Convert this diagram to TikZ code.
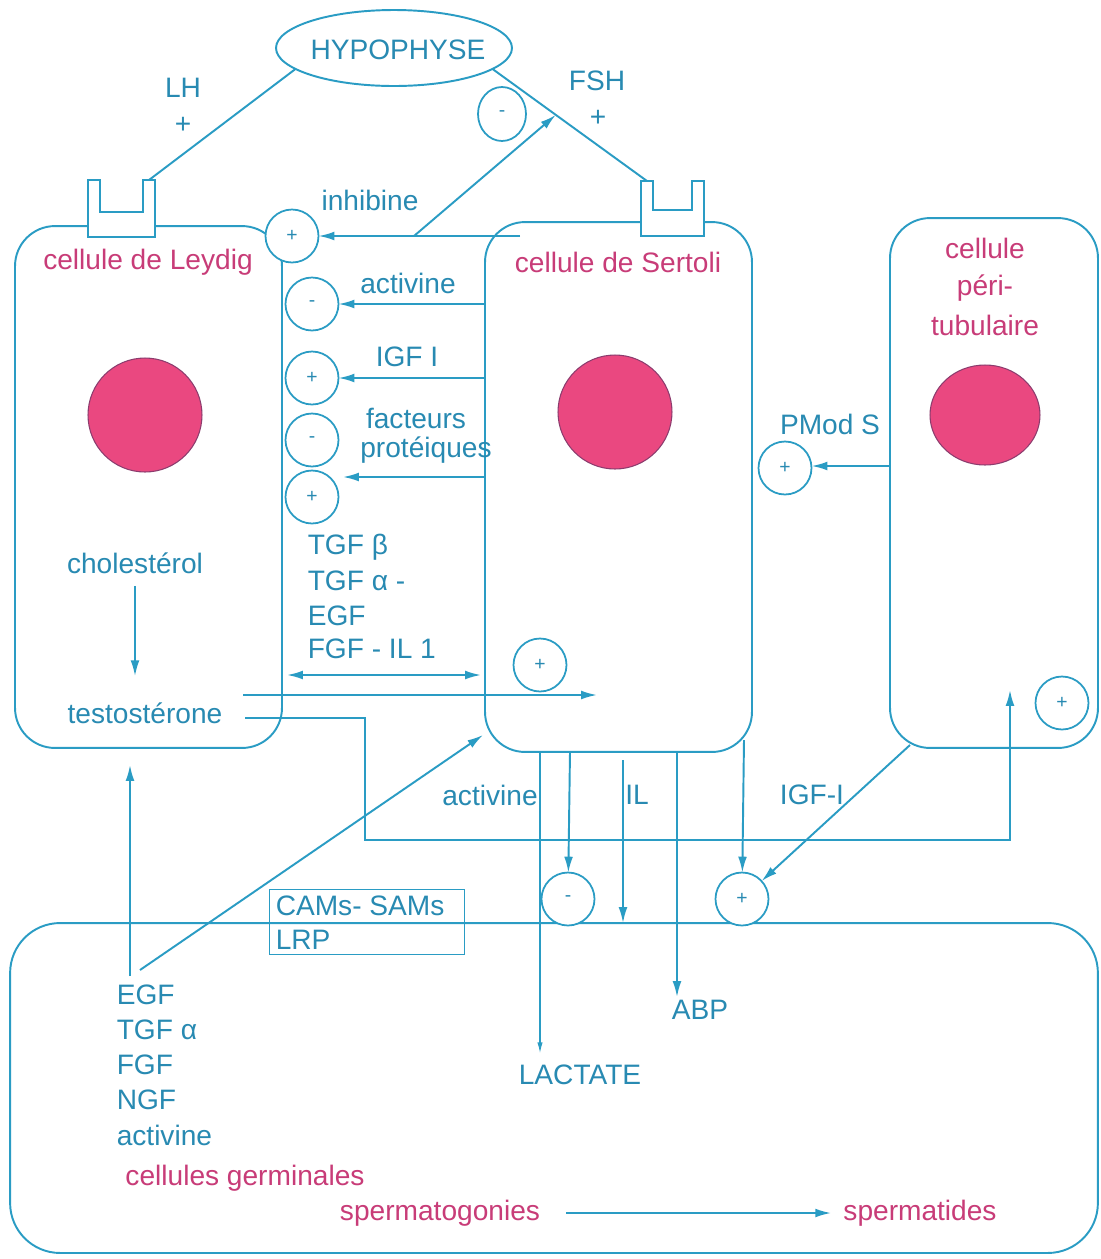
\documentclass[tikz,border=0pt]{standalone}
\usepackage{fontspec}
\setmainfont{Liberation Sans}
\usetikzlibrary{arrows.meta,shapes.geometric,calc}
\definecolor{lb}{RGB}{42,156,196}
\definecolor{tb}{RGB}{40,138,178}
\definecolor{mg}{RGB}{200,60,120}
\definecolor{nuc}{RGB}{234,72,128}
\definecolor{nucb}{RGB}{140,60,110}
\begin{document}
\begin{tikzpicture}[x=0.02cm,y=-0.02cm,line width=1.1pt,color=lb,
  every node/.style={font=\fontsize{16}{19}\selectfont,text=tb,inner sep=1pt,outer sep=0pt},
  cell/.style={draw=lb,rounded corners=0.8cm,inner sep=0pt},
  nucleus/.style={ellipse,fill=nuc,draw=nucb,line width=0.6pt,inner sep=0pt},
  sig/.style={circle,draw=lb,fill=white,line width=1pt,minimum size=1.06cm,inner sep=0pt,font=\fontsize{11}{12}\selectfont},
  recep/.style={draw=lb,fill=white,line width=1.1pt},
  arr/.style={-{Latex[length=9pt,width=5pt]}},
  darr/.style={{Latex[length=9pt,width=5pt]}-{Latex[length=9pt,width=5pt]}},
  thinarr/.style={line width=0.6pt,-{Latex[length=6pt,width=3pt]}},
  cellname/.style={text=mg}]
\fill[white] (0,0) rectangle (1101,1259);
\useasboundingbox (0,0) rectangle (1101,1259);

% cells
\node[cell,minimum width=5.34cm,minimum height=10.44cm] (leydig) at (148.5,487) {};
\node[cell,minimum width=5.34cm,minimum height=10.6cm] (sertoli) at (618.5,487) {};
\node[cell,minimum width=4.16cm,minimum height=10.6cm] (peri) at (994,483) {};
\node[cell,rounded corners=1cm,minimum width=21.76cm,minimum height=6.6cm] (germ) at (554,1088) {};

% CAMs box
\node[draw=lb,line width=1pt,minimum width=3.9cm,minimum height=1.3cm] (cams) at (367,922) {};
\node[anchor=west] (camsT) at (274,906) {CAMs- SAMs};
\node[anchor=west] (lrp) at (274,940) {LRP};

% receptors
\draw[recep] (88,180) -- (88,237) -- (155,237) -- (155,180) -- (143,180) -- (143,212) -- (100,212) -- (100,180) -- cycle;
\coordinate (rL) at (149,180);
\draw[recep] (641,181) -- (641,236) -- (704,236) -- (704,181) -- (692,181) -- (692,210) -- (653,210) -- (653,181) -- cycle;
\coordinate (rS) at (647,181);

% hypophyse
\node[ellipse,draw=lb,minimum width=4.72cm,minimum height=1.52cm,inner sep=0pt] (hyp) at (394,48) {};
\node (hypT) at (398,50) {HYPOPHYSE};
\draw (hyp.192) -- (rL);
\draw (hyp.-12) -- (rS);
\node (lh) at (183,88) {LH};
\node (lhp) at (183,125) {+};
\node (fsh) at (597,81) {FSH};
\node (fshp) at (598,118) {+};
\node[sig,ellipse,minimum width=0.96cm,minimum height=1.08cm] (cFSH) at (502,114) {-};

% cell names
\node[cellname] (nLey) at (148,262) {cellule de Leydig};
\node[cellname] (nSer) at (618,262) {cellule de Sertoli};
\node[cellname] (nPer1) at (985,248) {cellule};
\node[cellname] (nPer2) at (985,288) {péri-};
\node[cellname] (nPer3) at (985,325) {tubulaire};

% nuclei
\node[nucleus,minimum width=2.28cm,minimum height=2.28cm] (nucL) at (145,415) {};
\node[nucleus,minimum width=2.28cm,minimum height=2.28cm] (nucS) at (615,412) {};
\node[nucleus,minimum width=2.2cm,minimum height=2.0cm] (nucP) at (985,415) {};

% signal circles
\node[sig] (cInh) at (292,236) {+};
\node[sig] (cAct) at (312,304) {-};
\node[sig] (cIGF) at (312,378) {+};
\node[sig] (cFac) at (312,440) {-};
\node[sig] (cFac2) at (312,497) {+};
\node[sig] (cS) at (540,665) {+};
\node[sig] (cPM) at (785,468) {+};
\node[sig] (cPer) at (1062,703) {+};
\node[sig] (cBA) at (568,899) {-};
\node[sig] (cBP) at (742,899) {+};

% labels Sertoli -> Leydig
\node (tInh) at (370,200) {inhibine};
\node (tAct) at (408,283) {activine};
\node (tIGF) at (407,357) {IGF I};
\node (tFac1) at (416,418) {facteurs};
\node (tFac2) at (426,450) {protéiques};
\node[anchor=west] (tg1) at (306,547) {TGF β};
\node[anchor=west] (tg2) at (306,581) {TGF α -};
\node[anchor=west] (tg3) at (306,616) {EGF};
\node[anchor=west] (tg4) at (306,649) {FGF - IL 1};

% Leydig contents
\node (chol) at (135,563) {cholestérol};
\node (testo) at (145,713) {testostérone};
\node (pmod) at (830,424) {PMod S};

% below Sertoli
\node (tAct2) at (490,795) {activine};
\node (tIL) at (637,795) {IL};
\node (tIGF2) at (812,795) {IGF-I};
\node (lact) at (580,1075) {LACTATE};
\node (abp) at (700,1010) {ABP};

% germ cell contents
\node[anchor=west] (g1) at (115,995) {EGF};
\node[anchor=west] (g2) at (115,1030) {TGF α};
\node[anchor=west] (g3) at (115,1065) {FGF};
\node[anchor=west] (g4) at (115,1100) {NGF};
\node[anchor=west] (g5) at (115,1135) {activine};
\node[cellname] (germN) at (245,1178) {cellules germinales};
\node[cellname] (spg) at (440,1213) {spermatogonies};
\node[cellname] (spd) at (920,1213) {spermatides};

% coordinates
\coordinate (sInh) at (520,236);
\coordinate (dInh) at (414,236);
\coordinate (fshTip) at ($(hyp.-12)!0.41!(rS)$);
\coordinate (sAct) at (485,304);
\coordinate (sIGF) at (485,378);
\coordinate (sFac) at (485,477);
\coordinate (eFac) at (343,477);
\coordinate (dbl1) at (287,675);
\coordinate (dbl2) at (481,675);
\coordinate (t1s) at (243,695);
\coordinate (t1e) at (597,695);
\coordinate (t2s) at (245,718);
\coordinate (t2a) at (365,718);
\coordinate (t2b) at (365,840);
\coordinate (t2c) at (1010,840);
\coordinate (t2e) at (1010,690);
\coordinate (sPM) at (890,466);
\coordinate (sLac) at (540,752);
\coordinate (eLac) at (540,1053);
\coordinate (sBA) at (570,752);
\coordinate (sIL) at (623,760);
\coordinate (eIL) at (623,923);
\coordinate (sABP) at (677,752);
\coordinate (eABP) at (677,997);
\coordinate (sBP) at (744,740);
\coordinate (sPer) at (910,745);
\coordinate (eUp1) at (130,976);
\coordinate (eUp2) at (130,765);
\coordinate (dg1) at (140,970);
\coordinate (dg2) at (483,735);

% connectors
\draw[arr] (sInh) -- (cInh);
\draw[arr] (dInh) -- (fshTip);
\draw[arr] (sAct) -- (cAct);
\draw[arr] (sIGF) -- (cIGF);
\draw[arr] (sFac) -- (eFac);
\draw[darr] (dbl1) -- (dbl2);
\draw[arr,shorten <=6pt,shorten >=14pt] (chol.south) -- (chol.south |- testo.north);
\draw[arr] (t1s) -- (t1e);
\draw[arr] (t2s) -- (t2a) -- (t2b) -- (t2c) -- (t2e);
\draw[arr] (sPM) -- (cPM.east |- sPM);
\draw[thinarr] (sLac) -- (eLac);
\draw[arr] (sBA) -- (cBA);
\draw[arr] (sIL) -- (eIL);
\draw[arr] (sABP) -- (eABP);
\draw[arr] (sBP) -- (cBP);
\draw[arr] (sPer) -- (cBP);
\draw[arr] (eUp1) -- (eUp2);
\draw[arr] (dg1) -- (dg2);
\draw[arr,shorten <=14pt,shorten >=6pt] (spg) -- (spd);
\end{tikzpicture}
\end{document}
